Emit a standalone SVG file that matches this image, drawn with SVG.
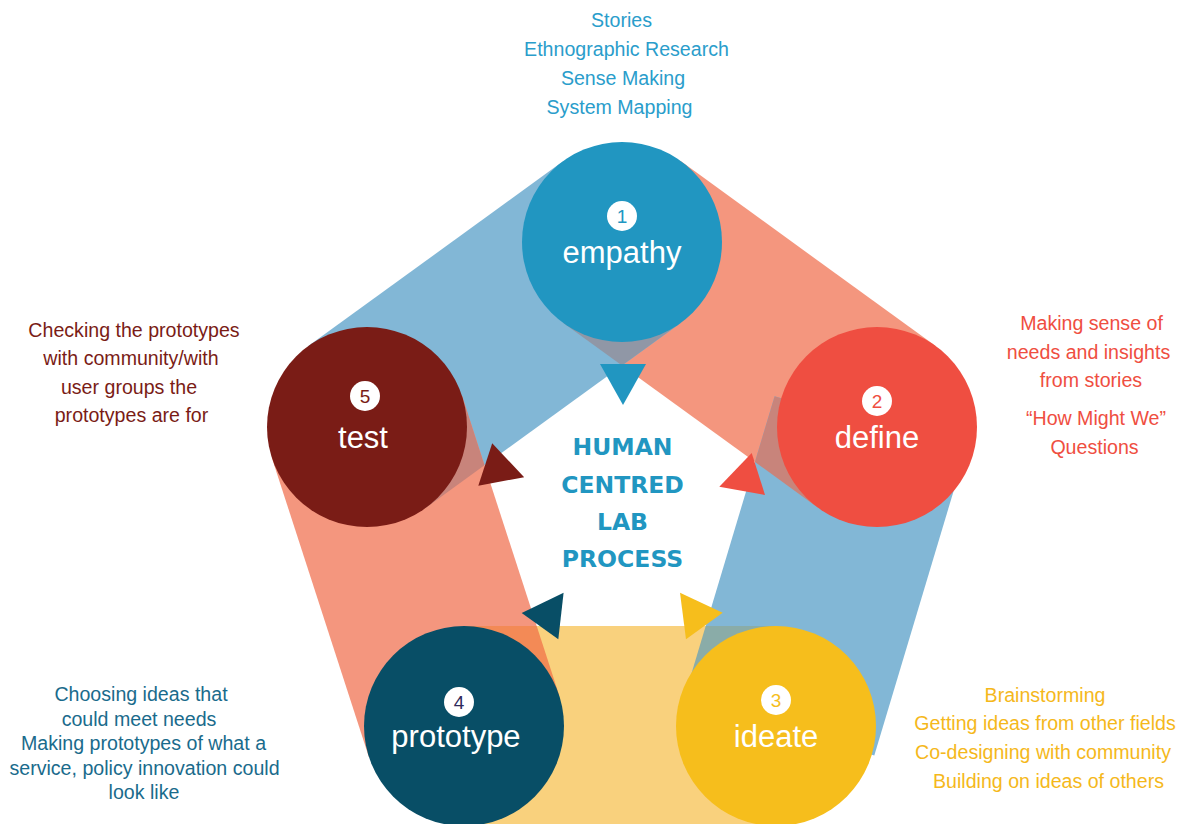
<svg xmlns="http://www.w3.org/2000/svg" width="1180" height="824" viewBox="0 0 1180 824">
<style>
.lbl{font-family:"Liberation Sans",Arial,sans-serif;font-size:31px;fill:#fff;text-anchor:middle}
.num{font-family:"Liberation Sans",Arial,sans-serif;font-size:19px;text-anchor:middle}
.desc{font-family:"Liberation Sans",Arial,sans-serif;font-size:19.6px;text-anchor:middle}
.title{font-family:"DejaVu Sans",Verdana,sans-serif;font-weight:bold;font-size:23.5px;fill:#2196c1;text-anchor:middle}
.blue{fill:#82b7d6}.salmon{fill:#f4967e}.yellow{fill:#f9d17d}
</style>
<rect width="1180" height="824" fill="#fff"/>
<g id="connectors">
  <polygon class="salmon" points="680.7,161.1 935.7,346.1 818.3,507.9 563.3,322.9"/>
  <polygon class="blue" points="563.3,161.1 308.3,346.1 425.7,507.9 680.7,322.9"/>
  <polygon class="salmon" points="271.9,457.9 368.9,756.9 559.1,695.1 462.1,396.1"/>
  <polygon class="blue" points="964.9,453.4 874.3,755.5 684,698.4 774.6,396.3"/>
  <rect class="yellow" x="464" y="626" width="312" height="200"/>
  <polygon fill="#9097a6" points="622,242 680.7,322.9 622,365.5 563.3,322.9"/>
  <polygon fill="#c8847b" points="367,427 462.1,396.1 484.5,465.2 425.7,507.9"/>
  <polygon fill="#c8847b" points="877,427 774.6,396.3 754.9,461.9 818.3,507.9"/>
  <polygon fill="#f38a56" points="464,626 536.7,626 559.1,695.1 464,726"/>
  <polygon fill="#8aaca8" points="705.7,626 776,626 776,726 684,698.4"/>
  <polygon fill="#2196c1" points="600,364 646,364 623,405"/>
  <polygon fill="#ef4e41" points="751.7,453 765,495 719.3,486.7"/>
  <polygon fill="#f6be1c" points="680,592.7 722.7,612.7 686,639.3"/>
  <polygon fill="#084e66" points="563.6,592.7 558.3,639.3 521.7,613"/>
  <polygon fill="#7a1c16" points="492.2,443.3 524.2,477.2 478.3,485.8"/>
</g>
<g id="center-title">
  <text class="title" x="622.5" y="455">HUMAN</text>
  <text class="title" x="622.5" y="493">CENTRED</text>
  <text class="title" x="622.5" y="530">LAB</text>
  <text class="title" x="622.5" y="567">PROCESS</text>
</g>
<g id="node-empathy">
  <circle cx="622" cy="242" r="100" fill="#2196c1"/>
  <circle cx="622" cy="216" r="15" fill="#fff"/>
  <text class="num" x="622" y="223" fill="#2196c1">1</text>
  <text class="lbl" x="622" y="263">empathy</text>
  <g class="desc" fill="#2a9dcb">
    <text x="621.5" y="27">Stories</text>
    <text x="626.5" y="56">Ethnographic Research</text>
    <text x="623" y="85">Sense Making</text>
    <text x="619.5" y="114">System Mapping</text>
  </g>
</g>
<g id="node-define">
  <circle cx="877" cy="427" r="100" fill="#ef4e41"/>
  <circle cx="877" cy="401" r="15" fill="#fff"/>
  <text class="num" x="877" y="408" fill="#ef4e41">2</text>
  <text class="lbl" x="877" y="448">define</text>
  <g class="desc" fill="#ef4e41">
    <text x="1091.5" y="330">Making sense of</text>
    <text x="1088.5" y="359">needs and insights</text>
    <text x="1091" y="387">from stories</text>
    <text x="1096" y="425">“How Might We”</text>
    <text x="1094.5" y="454">Questions</text>
  </g>
</g>
<g id="node-ideate">
  <circle cx="776" cy="726" r="100" fill="#f6be1c"/>
  <circle cx="776" cy="700" r="15" fill="#fff"/>
  <text class="num" x="776" y="707" fill="#f6be1c">3</text>
  <text class="lbl" x="776" y="747">ideate</text>
  <g class="desc" fill="#f5b81b">
    <text x="1045" y="702">Brainstorming</text>
    <text x="1045" y="730">Getting ideas from other fields</text>
    <text x="1043" y="759">Co-designing with community</text>
    <text x="1048.5" y="788">Building on ideas of others</text>
  </g>
</g>
<g id="node-prototype">
  <circle cx="464" cy="726" r="100" fill="#084e66"/>
  <circle cx="459" cy="702" r="15" fill="#fff"/>
  <text class="num" x="459" y="709" fill="#2e2a5c">4</text>
  <text class="lbl" x="456" y="747">prototype</text>
  <g class="desc" fill="#1a6b8c">
    <text x="141" y="701">Choosing ideas that</text>
    <text x="139" y="726">could meet needs</text>
    <text x="143.5" y="750">Making prototypes of what a</text>
    <text x="144.5" y="775">service, policy innovation could</text>
    <text x="144" y="799">look like</text>
  </g>
</g>
<g id="node-test">
  <circle cx="367" cy="427" r="100" fill="#7a1c16"/>
  <circle cx="365" cy="396" r="15" fill="#fff"/>
  <text class="num" x="365" y="403" fill="#7a1c16">5</text>
  <text class="lbl" x="363" y="448">test</text>
  <g class="desc" fill="#7a1c16">
    <text x="134" y="337">Checking the prototypes</text>
    <text x="131" y="365">with community/with</text>
    <text x="129" y="394">user groups the</text>
    <text x="131.5" y="422">prototypes are for</text>
  </g>
</g>
</svg>
